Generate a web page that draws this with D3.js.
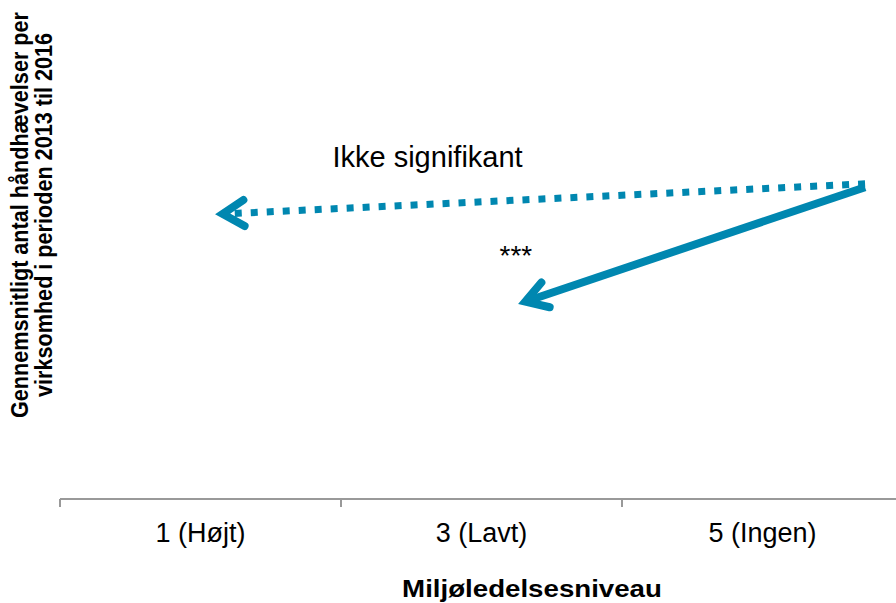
<!DOCTYPE html>
<html><head><meta charset="utf-8">
<script src="https://cdn.jsdelivr.net/npm/d3@7"></script>
<style>body{margin:0;background:#fff}svg{display:block;font-family:"Liberation Sans",Arial,sans-serif}</style>
</head><body><svg id="c" width="896" height="603"></svg>
<script>
// Categories on the x axis (miljøledelsesniveau)
const categories = ["1 (Højt)", "3 (Lavt)", "5 (Ingen)"];
const levels = [1, 3, 5];
// Arrows: start/end expressed as (level, value)
const arrowNames = ["Ikke signifikant", "***"];
const arrowStartLevel = [5.73, 5.73];
const arrowStartValue = [6.58, 6.51];
const arrowEndLevel = [1.158, 3.312];
const arrowEndValue = [5.95, 4.12];
const arrowDashed = [true, false];
const labelLevel = [2.616, 3.245];
const labelValue = [6.93, 4.885];
const yTitle = ["Gennemsnitligt antal håndhævelser per", "virksomhed i perioden 2013 til 2016"];
const xTitle = "Miljøledelsesniveau";

const svg = d3.select("#c");
const color = "#0087B0";
const axisY = 499;
const xBand = d3.scaleBand().domain(categories).range([60, 903]).padding(0);
const xLin = d3.scaleLinear().domain([1, 5]).range([xBand(categories[0]) + xBand.bandwidth()/2, xBand(categories[2]) + xBand.bandwidth()/2]);
const y = d3.scaleLinear().domain([0, 10]).range([axisY, 20]);

// x axis
const ax = svg.append("g").attr("transform", `translate(0,${axisY})`)
  .call(d3.axisBottom(xBand).tickSize(0).tickPadding(24));
ax.select(".domain").attr("stroke", "#999").attr("stroke-width", 2).attr("d", "M60,0H903");
ax.selectAll(".tick text").attr("font-size", 27).attr("fill", "#000").attr("font-family", "Liberation Sans, Arial, sans-serif");
// category boundary ticks
const bounds = categories.map(c => xBand(c)).concat([903]);
ax.selectAll("line.b").data(bounds).enter().append("line").attr("class", "b")
  .attr("x1", d => d).attr("x2", d => d).attr("y1", 0).attr("y2", 8)
  .attr("stroke", "#999").attr("stroke-width", 2);

// x title
svg.append("text").attr("transform", "translate(532,597) scale(1.153,1)").attr("text-anchor", "middle")
  .attr("font-size", 24).attr("font-weight", "bold").text(xTitle);
// y title
const yt = svg.append("text").attr("transform", "translate(0,215) rotate(-90) scale(0.94,1)")
  .attr("text-anchor", "middle").attr("font-size", 23).attr("font-weight", "bold");
yTitle.forEach((t, i) => yt.append("tspan").attr("x", 0).attr("y", 28 + i * 24).text(t));

// arrows
arrowNames.forEach((n, i) => {
  const x1 = xLin(arrowStartLevel[i]), y1 = y(arrowStartValue[i]);
  const x2 = xLin(arrowEndLevel[i]), y2 = y(arrowEndValue[i]);
  const g = svg.append("g");
  const ang = Math.atan2(y1 - y2, x1 - x2);
  g.append("line").attr("x1", x1).attr("y1", y1)
    .attr("x2", x2 + 6 * Math.cos(ang)).attr("y2", y2 + 6 * Math.sin(ang))
    .attr("stroke", color).attr("stroke-width", arrowDashed[i] ? 7 : 8)
    .attr("stroke-dasharray", arrowDashed[i] ? "7,9" : null);
  const L = 25, spread = 0.55;
  const p1 = [x2 + L * Math.cos(ang - spread), y2 + L * Math.sin(ang - spread)];
  const p2 = [x2 + L * Math.cos(ang + spread), y2 + L * Math.sin(ang + spread)];
  g.append("path").attr("d", `M${p1}L${x2},${y2}L${p2}`).attr("fill", "none")
    .attr("stroke", color).attr("stroke-width", 8).attr("stroke-linecap", "round").attr("stroke-linejoin", "miter");
  svg.append("text").attr("x", xLin(labelLevel[i])).attr("y", y(labelValue[i]))
    .attr("text-anchor", "middle").attr("font-size", i === 0 ? 29 : 28).text(n);
});
</script></body></html>
